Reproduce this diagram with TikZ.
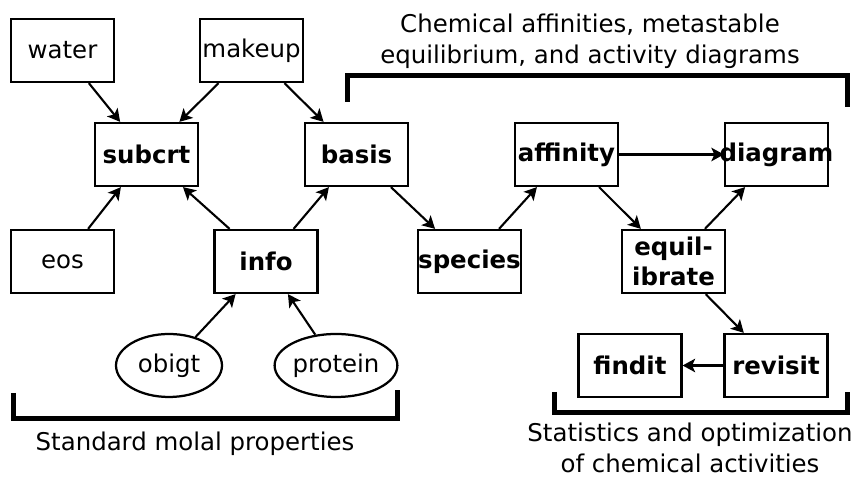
\documentclass[tikz,border=0pt]{standalone}
\usepackage{fontspec}
\setmainfont{DejaVu Sans}
\usetikzlibrary{shapes.geometric,arrows.meta}

\tikzset{
	prog/.style={draw, line width=0.45mm, minimum width=2.06cm, minimum height=1.26cm, inner sep=0pt, font=\fontsize{13.9}{17}\selectfont},
	fn/.style={prog, font=\fontsize{13.9}{17}\selectfont\bfseries},
	dataset/.style={draw, ellipse, line width=0.45mm, minimum width=2.12cm, minimum height=1.26cm, inner sep=0pt, font=\fontsize{13.9}{17}\selectfont},
	link/.style={-{Stealth[length=0.25cm, width=0.27cm, inset=0.06cm]}, line width=0.42mm},
	bracket/.style={line width=1mm},
	caption/.style={align=center, font=\fontsize{13.9}{17.5}\selectfont}
}

\begin{document}
\begin{tikzpicture}
			%%%%% START %%%%%
			\useasboundingbox (0, 0) rectangle (17.22, 9.56);
			
			\node[prog] (water) at (1.25, 8.55) {water};
			\node[prog] (makeup) at (5.03, 8.55) {makeup};
			
			\node[fn] (subcrt) at (2.93, 6.47) {subcrt};
			\node[fn] (basis) at (7.13, 6.47) {basis};
			\node[fn] (affinity) at (11.33, 6.47) {affinity};
			\node[fn] (diagram) at (15.53, 6.47) {\makebox[0pt]{diagram}};
			
			\node[prog] (eos) at (1.25, 4.33) {eos};
			\node[fn] (info) at (5.32, 4.33) {info};
			\node[fn] (species) at (9.39, 4.33) {species};
			\node[fn, align=center] (equilibrate) at (13.47, 4.33) {equil-\\ibrate};
			
			\node[dataset] (obigt) at (3.38, 2.25) {obigt};
			\node[dataset] (protein) at (6.72, 2.25) {protein};
			\node[fn] (findit) at (12.6, 2.25) {findit};
			\node[fn] (revisit) at (15.52, 2.25) {revisit};
			
			\draw[link] (water) -- (subcrt);
			\draw[link] (makeup) -- (subcrt);
			\draw[link] (makeup) -- (basis);
			\draw[link] (eos) -- (subcrt);
			\draw[link] (info) -- (subcrt);
			\draw[link] (info) -- (basis);
			\draw[link] (obigt) -- (info);
			\draw[link] (protein) -- (info);
			\draw[link] (basis) -- (species);
			\draw[link] (species) -- (affinity);
			\draw[link] (affinity) -- (diagram);
			\draw[link] (affinity) -- (equilibrate);
			\draw[link] (equilibrate) -- (diagram);
			\draw[link] (equilibrate) -- (revisit);
			\draw[link] (revisit) -- (findit);
			
			\draw[bracket] (6.94, 7.52) -- (6.94, 8.04) -- (16.94, 8.04) -- (16.94, 7.42);
			\node[caption] (toplabel) at (11.8, 8.74) {Chemical affinities, metastable\\equilibrium, and activity diagrams};
			
			\draw[bracket] (0.28, 1.70) -- (0.28, 1.18) -- (7.94, 1.18) -- (7.94, 1.76);
			\node[caption] (leftlabel) at (3.9, 0.68) {Standard molal properties};
			
			\draw[bracket] (11.08, 1.72) -- (11.08, 1.30) -- (16.94, 1.30) -- (16.94, 1.72);
			\node[caption] (rightlabel) at (13.8, 0.6) {Statistics and optimization\\of chemical activities};
			
			%%%%% END %%%%%
		\end{tikzpicture}
\end{document}
